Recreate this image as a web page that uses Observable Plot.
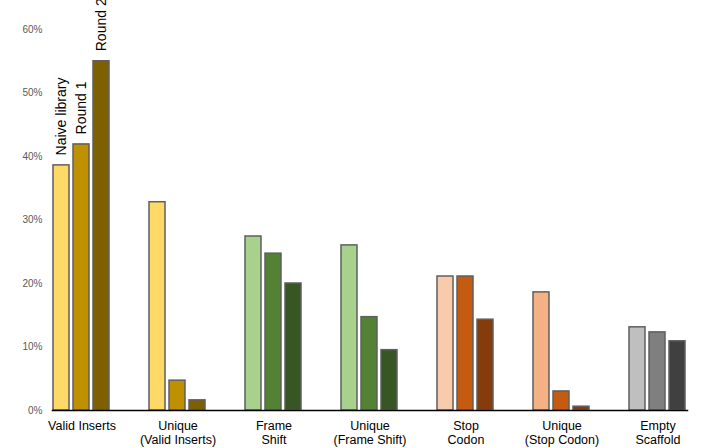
<!DOCTYPE html>
<html>
<head>
<meta charset="utf-8">
<script src="https://cdn.jsdelivr.net/npm/d3@7"></script>
<script src="https://cdn.jsdelivr.net/npm/@observablehq/plot@0.6"></script>
<style>
  body { margin: 0; background: #fff; }
  #chart svg { display: block; }
</style>
</head>
<body>
<div id="chart"></div>
<script>
const categories = ["Valid Inserts", "Unique\n(Valid Inserts)", "Frame\nShift", "Unique\n(Frame Shift)", "Stop\nCodon", "Unique\n(Stop Codon)", "Empty\nScaffold"];
const series = ["Naive library", "Round 1", "Round 2"];
const naive  = [38.6, 32.8, 27.4, 26.0, 21.1, 18.6, 13.1];
const round1 = [41.9,  4.7, 24.7, 14.7, 21.1,  3.0, 12.3];
const round2 = [55.0,  1.6, 20.0,  9.5, 14.3,  0.6, 10.9];
const yTicks = [0, 10, 20, 30, 40, 50, 60];

const palette = [
  ["#FFD966", "#BF9000", "#7F6000"],
  ["#FFD966", "#BF9000", "#7F6000"],
  ["#A9D18E", "#548235", "#375623"],
  ["#A9D18E", "#548235", "#375623"],
  ["#F8CBAD", "#C55A11", "#843C0C"],
  ["#F4B183", "#C55A11", "#843C0C"],
  ["#BFBFBF", "#7F7F7F", "#404040"]
];

const valuesBySeries = [naive, round1, round2];
const rows = [];
categories.forEach((c, i) => {
  series.forEach((s, j) => {
    rows.push({category: c, series: s, value: valuesBySeries[j][i], ci: i, si: j});
  });
});
const labelRows = rows.filter(d => d.ci === 0);

const chart = Plot.plot({
  width: 708,
  height: 448,
  marginLeft: 30,
  marginRight: 0,
  marginTop: 29,
  marginBottom: 38,
  style: {fontFamily: "'Liberation Sans', Arial, sans-serif", background: "#fff"},
  fx: {domain: categories, paddingInner: 0.39, paddingOuter: 0.195, label: null},
  x: {domain: series, paddingInner: 0.19, paddingOuter: 0, axis: null},
  y: {domain: [0, 60], label: null},
  marks: [
    Plot.axisY({ticks: yTicks, tickSize: 0, tickPadding: 10, tickFormat: d => d + "%", fontSize: 10, fill: "#595959", label: null}),
    Plot.axisFx({anchor: "bottom", tickSize: 0, tickPadding: 9, fontSize: 12.5, lineAnchor: "top", lineHeight: 1.15, label: null, fill: "#000"}),
    Plot.barY(rows, {fx: "category", x: "series", y: "value", fill: d => palette[d.ci][d.si], stroke: "#5f5f5f", strokeWidth: 1.5}),
    Plot.frame({facet: "super", anchor: "bottom", stroke: "#000", strokeWidth: 1.5}),
    Plot.text(labelRows, {fx: "category", x: "series", y: "value", text: "series", rotate: -90, textAnchor: "start", dy: -10, fontSize: 14, fill: "#000"})
  ]
});
document.getElementById("chart").appendChild(chart);
</script>
</body>
</html>
